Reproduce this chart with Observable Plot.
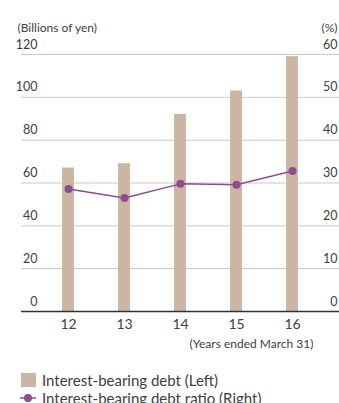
<!DOCTYPE html>
<html>
<head>
<meta charset="utf-8">
<script src="https://cdn.jsdelivr.net/npm/d3@7"></script>
<script src="https://cdn.jsdelivr.net/npm/@observablehq/plot@0.6"></script>
<style>
  html, body { margin: 0; padding: 0; background: #fff; }
  body { width: 339px; height: 403px; overflow: hidden; font-family: Lato, "Open Sans", sans-serif; color: #404040; }
  #chart svg { display: block; }
  .legend { position: relative; height: 41px; font-size: 15px; }
  .row { position: absolute; left: 20px; display: flex; align-items: center; height: 17px; }
  .swatch { width: 15px; height: 14px; background: #cbb6a3; margin: 0 6px 0 1px; }
  .linekey { width: 16px; height: 16px; margin-right: 6px; }
</style>
</head>
<body>
<div id="chart"></div>
<div class="legend">
  <div class="row" style="top:9px"><span class="swatch"></span><span>Interest-bearing debt (Left)</span></div>
  <div class="row" style="top:27px">
    <svg class="linekey" viewBox="0 0 16 16"><line x1="0" y1="8" x2="16" y2="8" stroke="#8f4b91" stroke-width="1.5"/><circle cx="8" cy="8" r="4" fill="#8f4b91"/></svg>
    <span>Interest-bearing debt ratio (Right)</span>
  </div>
</div>
<script>
// Fiscal years (ended March 31)
const years = ["12", "13", "14", "15", "16"];
// Interest-bearing debt, billions of yen (left axis)
const debt = [67, 69, 92, 103, 119];
// Interest-bearing debt ratio, % (right axis)
const ratio = [28.6, 26.5, 29.8, 29.6, 32.8];
// Axis ticks
const leftTicks = [0, 20, 40, 60, 80, 100, 120];
const rightTicks = [0, 10, 20, 30, 40, 50, 60];

const rows = years.map((y, i) => ({year: y, debt: debt[i], ratio: ratio[i]}));
// Right axis 0–60 % shares the frame with the left axis 0–120
const k = 120 / 60;

const textColor = "#404040";
const chart = Plot.plot({
  width: 339,
  height: 362,
  marginTop: 54,
  marginBottom: 51,
  marginLeft: 21,
  marginRight: 0,
  style: {fontFamily: "Lato, 'Open Sans', sans-serif", color: textColor, background: "#fff"},
  x: {type: "band", domain: years, range: [38.75, 321.25], paddingInner: 0.788, paddingOuter: 0.394, axis: null},
  y: {domain: [0, 120], axis: null},
  marks: [
    Plot.ruleY(leftTicks.filter(d => d > 0), {stroke: "#c8c8c8", strokeWidth: 1}),
    Plot.barY(rows, {x: "year", y: "debt", fill: "#cbb6a3"}),
    Plot.ruleY([0], {stroke: "#333", strokeWidth: 1.3}),
    Plot.line(rows, {x: "year", y: d => d.ratio * k, stroke: "#8f4b91", strokeWidth: 1.5}),
    Plot.dot(rows, {x: "year", y: d => d.ratio * k, r: 4, fill: "#8f4b91"}),
    // left tick labels, sitting above their gridlines
    Plot.text(leftTicks, {y: d => d, text: d => String(d), frameAnchor: "left", dx: 16, dy: -10, textAnchor: "end", fontSize: 12.5, fill: textColor}),
    // right tick labels
    Plot.text(rightTicks, {y: d => d * k, text: d => String(d), frameAnchor: "right", dx: -2, dy: -10, textAnchor: "end", fontSize: 12.5, fill: textColor}),
    // year labels
    Plot.text(rows, {x: "year", text: "year", frameAnchor: "bottom", dy: 17, fontSize: 14, fill: textColor}),
    Plot.text(["(Years ended March 31)"], {frameAnchor: "bottom-right", dx: -26, dy: 36, textAnchor: "end", fontSize: 12, fill: textColor}),
    Plot.text(["(Billions of yen)"], {frameAnchor: "top-left", dx: -4, dy: -31, textAnchor: "start", fontSize: 12, fill: textColor}),
    Plot.text(["(%)"], {frameAnchor: "top-right", dx: -2, dy: -31, textAnchor: "end", fontSize: 12, fill: textColor})
  ]
});
document.getElementById("chart").appendChild(chart);
</script>
</body>
</html>
